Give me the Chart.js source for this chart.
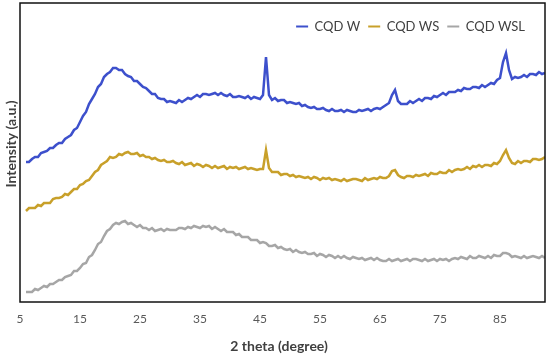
<!DOCTYPE html>
<html><head><meta charset="utf-8">
<script src="https://cdn.jsdelivr.net/npm/chart.js@4.4.1/dist/chart.umd.min.js"></script>
<style>html,body{margin:0;padding:0;background:#fff;}</style>
</head><body>
<canvas id="c" width="550" height="361"></canvas>
<script>
const twoTheta = [6,6.5,7,7.5,8,8.5,9,9.5,10,10.5,11,11.5,12,12.5,13,13.5,14,14.5,15,15.5,16,16.5,17,17.5,18,18.5,19,19.5,20,20.5,21,21.5,22,22.5,23,23.5,24,24.5,25,25.5,26,26.5,27,27.5,28,28.5,29,29.5,30,30.5,31,31.5,32,32.5,33,33.5,34,34.5,35,35.5,36,36.5,37,37.5,38,38.5,39,39.5,40,40.5,41,41.5,42,42.5,43,43.5,44,44.5,45,45.5,46,46.5,47,47.5,48,48.5,49,49.5,50,50.5,51,51.5,52,52.5,53,53.5,54,54.5,55,55.5,56,56.5,57,57.5,58,58.5,59,59.5,60,60.5,61,61.5,62,62.5,63,63.5,64,64.5,65,65.5,66,66.5,67,67.5,68,68.5,69,69.5,70,70.5,71,71.5,72,72.5,73,73.5,74,74.5,75,75.5,76,76.5,77,77.5,78,78.5,79,79.5,80,80.5,81,81.5,82,82.5,83,83.5,84,84.5,85,85.5,86,86.5,87,87.5,88,88.5,89,89.5,90,90.5,91,91.5,92,92.5];

const cqdW = [140,140,143,145,145,149,150,151,154,154, 157,159,159,163,165,167,172,174,180,186, 190,198,203,208,215,218,225,228,230,234, 234,232,232,228,226,225,221,221,218,215, 214,211,208,208,204,203,203,200,201,200, 199,202,200,202,204,203,205,207,205,208, 208,207,208,209,207,209,207,206,208,205, 205,206,205,204,206,203,205,204,203,207, 245,207,202,204,201,202,202,199,200,199, 198,199,196,197,195,194,195,193,193,194, 192,191,193,191,191,192,190,192,191,190, 190,192,191,192,193,191,193,194,193,195, 197,199,207,212,201,198,198,198,201,199, 201,203,201,204,204,203,206,205,207,209, 207,210,210,210,212,211,214,213,213,215, 215,214,217,215,217,219,218,222,224,240, 249,232,223,225,224,225,227,225,228,228, 227,230,228,229];

const cqdWS = [91,94,94,94,97,96,99,99,99,103, 104,104,105,108,107,110,113,113,117,118, 121,122,126,130,132,137,139,141,145,144, 145,148,147,149,150,148,148,149,146,147, 145,145,143,144,142,141,142,140,140,141, 139,138,140,137,138,139,136,138,137,135, 137,136,134,136,134,135,136,133,135,134, 135,133,134,135,133,134,133,132,133,133, 152,134,130,130,130,127,128,128,126,127, 125,126,125,124,125,123,125,124,122,124, 123,124,122,123,122,121,123,121,122,123, 123,122,121,124,122,123,124,123,125,124, 124,126,131,132,127,125,124,126,126,125, 127,126,127,128,126,129,128,128,130,129, 129,132,130,132,133,132,133,135,133,136, 135,137,135,137,137,136,139,138,141,147, 152,144,139,138,141,139,141,141,140,143, 143,142,143,145];

const cqdWSL = [10,10,10,13,12,14,16,15,18,18, 20,22,22,25,26,27,31,31,34,38, 39,45,47,52,58,60,66,71,73,77, 79,78,80,81,78,79,77,75,77,74, 74,72,74,71,72,73,71,73,72,72, 72,74,74,73,75,74,76,75,74,76, 75,76,73,75,73,71,73,70,70,70, 67,68,65,65,65,62,62,62,59,60, 59,56,56,57,54,55,53,52,53,50, 52,50,49,50,48,48,49,46,48,47, 45,47,46,44,46,44,46,44,43,45, 44,43,44,42,43,44,42,44,42,41, 41,43,41,42,43,41,42,43,41,43, 43,42,41,43,41,42,43,41,43,42, 43,41,43,44,43,45,44,43,46,44, 44,46,45,44,46,44,47,46,46,49, 49,48,45,46,45,44,46,44,45,46, 45,44,46,44];

const seriesNames = ['CQD W', 'CQD WS', 'CQD WSL'];
const seriesColors = ['#3d50cc', '#c8a02a', '#a6a6a6'];
const tickValues = [5, 15, 25, 35, 45, 55, 65, 75, 85];

const FONT = "Lato, 'Open Sans', sans-serif";

const toPoints = arr => twoTheta.map((x, i) => ({ x: x, y: arr[i] }));

const frame = {
  id: 'frame',
  afterDatasetsDraw(chart) {
    const { ctx, chartArea: a } = chart;
    ctx.save();
    ctx.strokeStyle = '#111';
    ctx.lineWidth = 1.5;
    ctx.strokeRect(a.left, a.top, a.right - a.left, a.bottom - a.top);
    ctx.restore();
  }
};

const legendInside = {
  id: 'legendInside',
  afterInit(chart) {
    const lg = chart.legend;
    if (!lg) return;
    const f = lg.fit;
    lg.fit = function () { f.call(this); this.height = 0; };
  },
  afterLayout(chart) {
    const lg = chart.legend;
    if (!lg) return;
    lg.top = 12; lg.height = 34; lg.bottom = lg.top + lg.height;
    lg.left = 20; lg.right = 533; lg.width = lg.right - lg.left;
  }
};

new Chart(document.getElementById('c'), {
  type: 'line',
  data: {
    datasets: [
      { label: seriesNames[0], data: toPoints(cqdW), borderColor: seriesColors[0], backgroundColor: seriesColors[0] },
      { label: seriesNames[1], data: toPoints(cqdWS), borderColor: seriesColors[1], backgroundColor: seriesColors[1] },
      { label: seriesNames[2], data: toPoints(cqdWSL), borderColor: seriesColors[2], backgroundColor: seriesColors[2] }
    ]
  },
  options: {
    responsive: false,
    animation: false,
    devicePixelRatio: 1,
    layout: { padding: { left: 0, right: 5, top: 3, bottom: 0 } },
    elements: { point: { radius: 0 }, line: { borderWidth: 2.5, tension: 0 } },
    scales: {
      x: {
        type: 'linear', min: 5, max: 92.5,
        afterFit(s) { s.height = 59; },
        afterBuildTicks(s) { s.ticks = tickValues.map(v => ({ value: v })); },
        grid: { display: false, drawTicks: false },
        border: { display: false },
        ticks: { padding: 10, color: '#595959', font: { family: FONT, size: 12 }, maxRotation: 0, autoSkip: false },
        title: { display: true, text: '2 theta (degree)  ', color: '#404040', font: { family: FONT, size: 14, weight: 'bold' }, padding: { top: 0, bottom: 6 } }
      },
      y: {
        min: 0, max: 299,
        afterFit(s) { s.width = 20; },
        grid: { display: false, drawTicks: false },
        border: { display: false },
        ticks: { display: false },
        title: { display: true, text: '     Intensity (a.u.)', color: '#404040', font: { family: FONT, size: 14, weight: 'bold' }, padding: { top: 3, bottom: 0 } }
      }
    },
    plugins: {
      legend: {
        position: 'top', align: 'end',
        labels: {
          boxWidth: 12, boxHeight: 2, padding: 8, color: '#404040',
          font: { family: FONT, size: 13 },
          generateLabels(chart) {
            const items = Chart.defaults.plugins.legend.labels.generateLabels(chart);
            items.forEach(it => { it.lineWidth = 0; it.fillStyle = it.strokeStyle; });
            return items;
          }
        }
      },
      tooltip: { enabled: false }
    }
  },
  plugins: [frame, legendInside]
});
</script>
</body></html>
